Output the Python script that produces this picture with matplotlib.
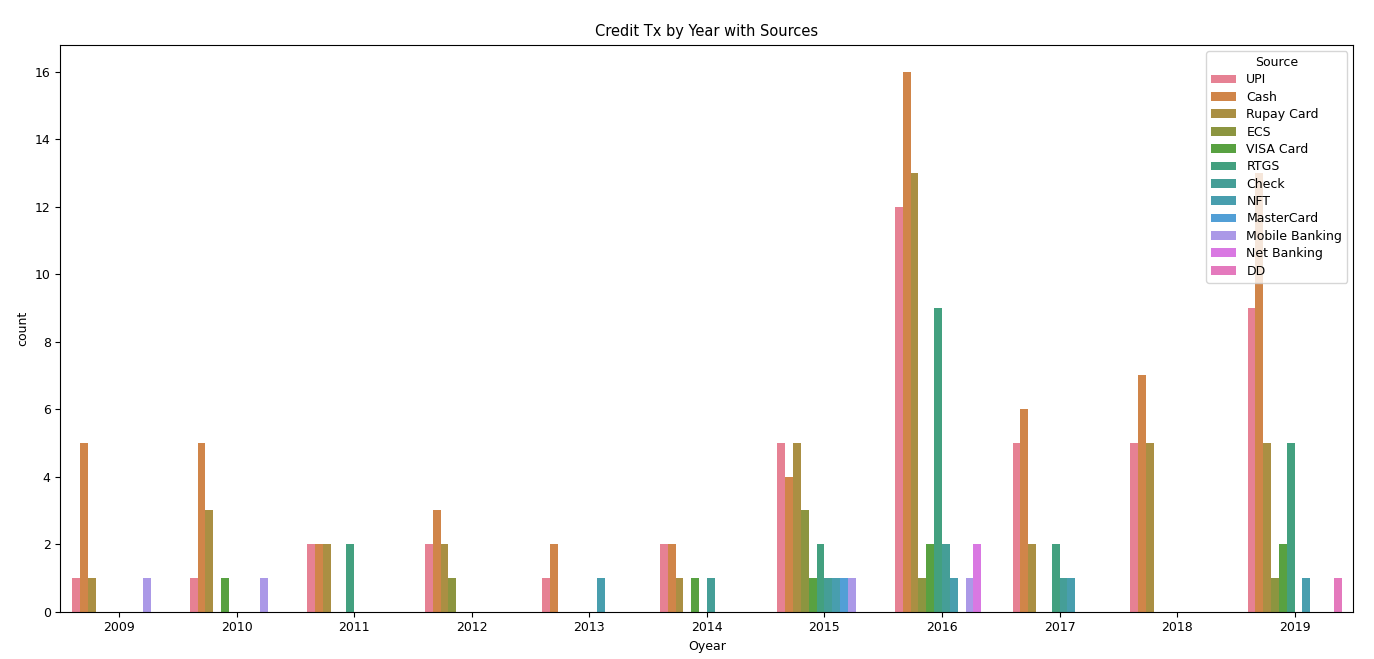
import matplotlib
matplotlib.use("Agg")
import matplotlib.pyplot as plt
import seaborn as sns
import pandas as pd

years = [2009, 2010, 2011, 2012, 2013, 2014, 2015, 2016, 2017, 2018, 2019]
sources = ["UPI", "Cash", "Rupay Card", "ECS", "VISA Card", "RTGS", "Check", "NFT",
           "MasterCard", "Mobile Banking", "Net Banking", "DD"]
# counts per year, in order of sources
counts = {
    2009: [1, 5, 1, 0, 0, 0, 0, 0, 0, 1, 0, 0],
    2010: [1, 5, 3, 0, 1, 0, 0, 0, 0, 1, 0, 0],
    2011: [2, 2, 2, 0, 0, 2, 0, 0, 0, 0, 0, 0],
    2012: [2, 3, 2, 1, 0, 0, 0, 0, 0, 0, 0, 0],
    2013: [1, 2, 0, 0, 0, 0, 0, 1, 0, 0, 0, 0],
    2014: [2, 2, 1, 0, 1, 0, 1, 0, 0, 0, 0, 0],
    2015: [5, 4, 5, 3, 1, 2, 1, 1, 1, 1, 0, 0],
    2016: [12, 16, 13, 1, 2, 9, 2, 1, 0, 1, 2, 0],
    2017: [5, 6, 2, 0, 0, 2, 1, 1, 0, 0, 0, 0],
    2018: [5, 7, 5, 0, 0, 0, 0, 0, 0, 0, 0, 0],
    2019: [9, 13, 5, 1, 2, 5, 0, 1, 0, 0, 0, 1],
}

rows = []
for y in years:
    for s, c in zip(sources, counts[y]):
        rows += [(y, s)] * c
df = pd.DataFrame(rows, columns=["Oyear", "Source"])

plt.rcParams["font.size"] = 9
fig, ax = plt.subplots(figsize=(13.74, 6.59), dpi=100)
sns.countplot(data=df, x="Oyear", hue="Source", order=years, hue_order=sources,
              palette=sns.color_palette("husl", len(sources)), saturation=0.75, ax=ax)
ax.set_title("Credit Tx by Year with Sources", fontsize=10.5)
ax.set_xlabel("Oyear")
ax.set_ylabel("count")
ax.legend(title="Source", loc="upper right", fontsize=9, title_fontsize=9,
          labelspacing=0.35, handlelength=2.0)
fig.subplots_adjust(left=0.044, right=0.985, top=0.932, bottom=0.072)
fig.savefig("out.png")
